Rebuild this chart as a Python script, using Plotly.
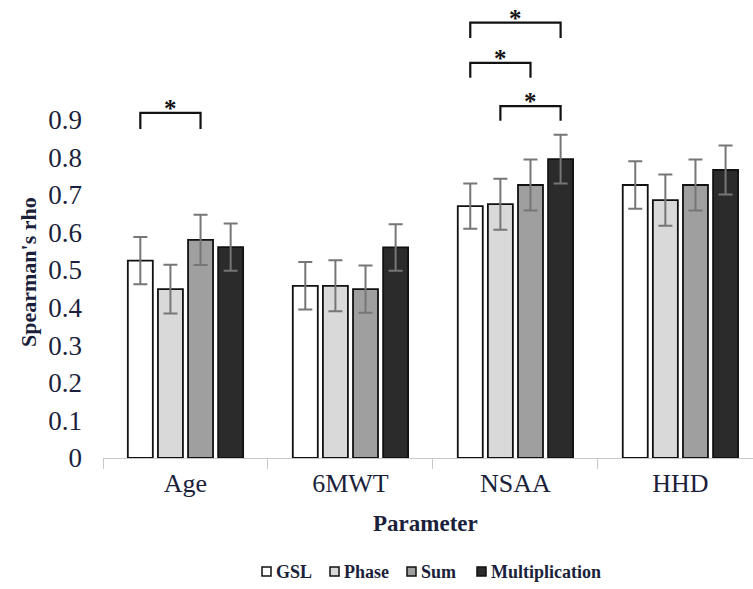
import plotly.graph_objects as go

categories = ["Age", "6MWT", "NSAA", "HHD"]
series_names = ["GSL", "Phase", "Sum", "Multiplication"]
gsl = [0.525, 0.458, 0.670, 0.726]
phase = [0.449, 0.458, 0.675, 0.686]
sum_ = [0.580, 0.449, 0.726, 0.726]
mult = [0.561, 0.560, 0.795, 0.766]
gsl_err = [0.063, 0.063, 0.060, 0.063]
phase_err = [0.065, 0.068, 0.068, 0.068]
sum_err = [0.067, 0.063, 0.068, 0.068]
mult_err = [0.063, 0.062, 0.065, 0.065]
y_ticks = [0, 0.1, 0.2, 0.3, 0.4, 0.5, 0.6, 0.7, 0.8, 0.9]
y_tick_labels = ["0", "0.1", "0.2", "0.3", "0.4", "0.5", "0.6", "0.7", "0.8", "0.9"]
# significance brackets: (category index, series a, series b, top level, leg bottom)
sig_cat = [0, 2, 2, 2]
sig_a = [0, 0, 0, 1]
sig_b = [2, 3, 2, 3]
sig_top = [0.918, 1.158, 1.051, 0.936]
sig_leg = [0.875, 1.117, 1.011, 0.897]

values = [gsl, phase, sum_, mult]
errors = [gsl_err, phase_err, sum_err, mult_err]
colors = ["#ffffff", "#d9d9d9", "#9f9f9f", "#2b2b2b"]

BARGAP = 0.27
FONT = "Liberation Serif"
TXT = "#1b1f3b"

W, H = 753, 589
ML, MB = 103, 131
PW, PH = W - ML, H - MB

fig = go.Figure()
for name, v, e, c in zip(series_names, values, errors, colors):
    fig.add_trace(go.Bar(
        x=categories, y=v, name=name, showlegend=False,
        marker=dict(color=c, line=dict(color="#111111", width=1.8)),
        error_y=dict(type="data", array=e, visible=True, color="#767676",
                     thickness=2, width=7),
    ))

slot = (1 - BARGAP) / len(series_names)
def bar_center(ci, si):
    return ci + (si - (len(series_names) - 1) / 2) * slot

for ci, a, b, top, leg in zip(sig_cat, sig_a, sig_b, sig_top, sig_leg):
    xa = bar_center(ci, a)
    xb = bar_center(ci, b)
    fig.add_shape(type="path", xref="x", yref="y",
                  path=f"M {xa},{leg} L {xa},{top} L {xb},{top} L {xb},{leg}",
                  line=dict(color="#111111", width=2.2))
    fig.add_annotation(x=(xa + xb) / 2, y=top, xref="x", yref="y", text="<b>*</b>",
                       showarrow=False, xanchor="center", yanchor="bottom", yshift=-11,
                       font=dict(family=FONT, size=25, color="#111111"))

def px(xp):
    return (xp - ML) / PW
def py(yp):
    return (PH - yp) / PH

fig.add_annotation(x=px(28), y=py(272), xref="paper", yref="paper",
                   text="<b>Spearman's rho</b>", textangle=-90, showarrow=False,
                   xanchor="center", yanchor="middle",
                   font=dict(family=FONT, size=22, color=TXT))
fig.add_annotation(x=px(425), y=py(523), xref="paper", yref="paper",
                   text="<b>Parameter</b>", showarrow=False,
                   xanchor="center", yanchor="middle",
                   font=dict(family=FONT, size=23, color=TXT))

# legend (drawn as small boxes + text)
legend_left = [262, 330, 407, 477]
legend_y = 571.5
for name, c, lx in zip(series_names, colors, legend_left):
    fig.add_shape(type="rect", xref="paper", yref="paper",
                  x0=px(lx), x1=px(lx + 9), y0=py(legend_y + 4.5), y1=py(legend_y - 4.5),
                  fillcolor=c, line=dict(color="#111111", width=1.5))
    fig.add_annotation(x=px(lx + 12), y=py(legend_y), xref="paper", yref="paper",
                       text=f"<b>{name}</b>", showarrow=False, xanchor="left",
                       yanchor="middle", font=dict(family=FONT, size=18, color=TXT))

fig.update_layout(
    width=W, height=H,
    margin=dict(l=ML, r=0, t=0, b=MB, autoexpand=False),
    paper_bgcolor="white", plot_bgcolor="white",
    barmode="group", bargap=BARGAP, bargroupgap=0.17,
    showlegend=False,
    font=dict(family=FONT, color=TXT),
)
fig.update_xaxes(range=[-0.5, 3.44], showline=True, linecolor="#c8c8c8", linewidth=1,
                 ticks="outside", tickson="boundaries", ticklen=10, tickcolor="#c8c8c8",
                 showgrid=False, tickfont=dict(family=FONT, size=26, color=TXT),
                 ticklabelstandoff=2, automargin=False)
fig.update_yaxes(range=[0, PH / 376], tickvals=y_ticks, ticktext=y_tick_labels,
                 showgrid=False, zeroline=False, showline=False, ticks="",
                 tickfont=dict(family=FONT, size=27, color=TXT), ticklabelstandoff=20,
                 automargin=False)

fig.write_html("out.html", config={"displayModeBar": False},
               post_script="document.body.style.margin='0px';")
